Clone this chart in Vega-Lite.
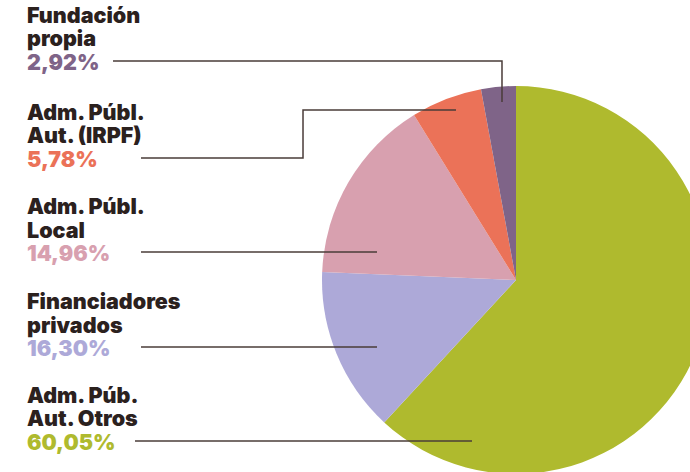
{
  "$schema": "https://vega.github.io/schema/vega-lite/v6.json",
  "width": 690,
  "height": 472,
  "autosize": {"type": "none"},
  "padding": 0,
  "background": "white",
  "config": {"view": {"stroke": null}},
  "datasets": {
    "slices": [
      {"cat": "Adm. Púb. Aut. Otros", "idx": 1, "slice": 61.89},
      {"cat": "Financiadores privados", "idx": 2, "slice": 13.78},
      {"cat": "Adm. Públ. Local", "idx": 3, "slice": 15.53},
      {"cat": "Adm. Públ. Aut. (IRPF)", "idx": 4, "slice": 5.92},
      {"cat": "Fundación propia", "idx": 5, "slice": 2.89}
    ],
    "labels": [
      {"cat": "Fundación propia", "name": ["Fundación", "propia"], "pct": "2,92%", "u": -2.5206, "v": 1.1289},
      {"cat": "Adm. Públ. Aut. (IRPF)", "name": ["Adm. Públ.", "Aut. (IRPF)"], "pct": "5,78%", "u": -2.5206, "v": 0.6289},
      {"cat": "Adm. Públ. Local", "name": ["Adm. Públ.", "Local"], "pct": "14,96%", "u": -2.5206, "v": 0.1443},
      {"cat": "Financiadores privados", "name": ["Financiadores", "privados"], "pct": "16,30%", "u": -2.5206, "v": -0.3454},
      {"cat": "Adm. Púb. Aut. Otros", "name": ["Adm. Púb.", "Aut. Otros"], "pct": "60,05%", "u": -2.5206, "v": -0.8299}
    ],
    "leaders": [
      {"cat": "Fundación propia", "ord": 1, "u": -2.0773, "v": 1.1289},
      {"cat": "Fundación propia", "ord": 2, "u": -0.0722, "v": 1.1289},
      {"cat": "Fundación propia", "ord": 3, "u": -0.0722, "v": 0.9175},
      {"cat": "Adm. Públ. Aut. (IRPF)", "ord": 1, "u": -1.933, "v": 0.6289},
      {"cat": "Adm. Públ. Aut. (IRPF)", "ord": 2, "u": -1.0979, "v": 0.6289},
      {"cat": "Adm. Públ. Aut. (IRPF)", "ord": 3, "u": -1.0979, "v": 0.8763},
      {"cat": "Adm. Públ. Aut. (IRPF)", "ord": 4, "u": -0.3093, "v": 0.8763},
      {"cat": "Adm. Públ. Local", "ord": 1, "u": -1.933, "v": 0.1443},
      {"cat": "Adm. Públ. Local", "ord": 2, "u": -0.7165, "v": 0.1443},
      {"cat": "Financiadores privados", "ord": 1, "u": -1.933, "v": -0.3454},
      {"cat": "Financiadores privados", "ord": 2, "u": -0.7165, "v": -0.3454},
      {"cat": "Adm. Púb. Aut. Otros", "ord": 1, "u": -1.9639, "v": -0.8299},
      {"cat": "Adm. Púb. Aut. Otros", "ord": 2, "u": -0.2268, "v": -0.8299}
    ]
  },
  "encoding": {
    "x": {"type": "quantitative", "scale": {"domain": [-2.6598, 0.8969], "nice": false, "zero": false}, "axis": null},
    "y": {"type": "quantitative", "scale": {"domain": [-0.9897, 1.4433], "nice": false, "zero": false}, "axis": null}
  },
  "layer": [
    {
      "data": {"name": "slices"},
      "mark": {"type": "arc", "outerRadius": 194, "stroke": null},
      "encoding": {
        "x": {"datum": 0, "type": "quantitative"},
        "y": {"datum": 0, "type": "quantitative"},
        "theta": {"field": "slice", "type": "quantitative", "stack": true},
        "order": {"field": "idx", "type": "quantitative"},
        "color": {
          "field": "cat", "type": "nominal", "legend": null,
          "scale": {
            "domain": ["Adm. Púb. Aut. Otros", "Financiadores privados", "Adm. Públ. Local", "Adm. Públ. Aut. (IRPF)", "Fundación propia"],
            "range": ["#AFBA2E", "#ADA9D8", "#D8A0AF", "#EB7258", "#7F6488"]
          }
        }
      }
    },
    {
      "data": {"name": "leaders"},
      "mark": {"type": "line", "stroke": "#4A3C39", "strokeWidth": 1.5, "strokeCap": "butt", "strokeJoin": "miter"},
      "encoding": {
        "x": {"field": "u", "type": "quantitative"},
        "y": {"field": "v", "type": "quantitative"},
        "detail": {"field": "cat", "type": "nominal"},
        "order": {"field": "ord", "type": "quantitative"}
      }
    },
    {
      "data": {"name": "labels"},
      "mark": {"type": "text", "align": "left", "baseline": "alphabetic", "dy": -38, "lineHeight": 23.5, "font": "Inter", "fontWeight": 900, "fontSize": 21.5, "fill": "#2B211E"},
      "encoding": {
        "x": {"field": "u", "type": "quantitative"},
        "y": {"field": "v", "type": "quantitative"},
        "text": {"field": "name"}
      }
    },
    {
      "data": {"name": "labels"},
      "mark": {"type": "text", "align": "left", "baseline": "alphabetic", "dy": 9, "font": "Inter", "fontWeight": 900, "fontSize": 21.5},
      "encoding": {
        "x": {"field": "u", "type": "quantitative"},
        "y": {"field": "v", "type": "quantitative"},
        "text": {"field": "pct"},
        "color": {"field": "cat", "type": "nominal", "legend": null}
      }
    }
  ]
}
